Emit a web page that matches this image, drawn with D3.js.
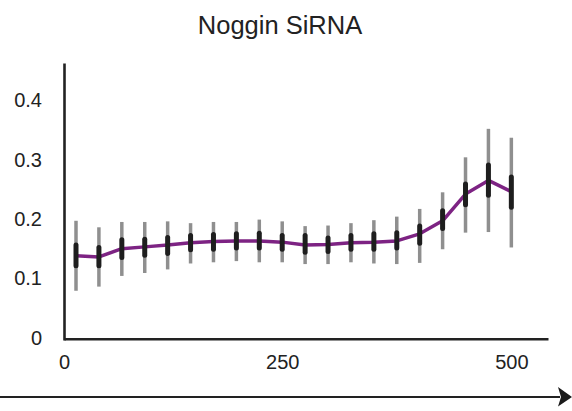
<!DOCTYPE html>
<html><head><meta charset="utf-8">
<script src="https://cdn.jsdelivr.net/npm/d3@7/dist/d3.min.js"></script>
<style>
html,body{margin:0;padding:0;background:#fff;}
svg{display:block;font-family:"Liberation Sans",Arial,sans-serif;}
</style></head>
<body>
<svg id="chart" width="572" height="411"></svg>
<script>
const title = "Noggin SiRNA";
const xValues = [25,50,75,100,125,150,175,200,225,250,275,300,325,350,375,400,425,450,475,500];
const means   = [0.138,0.136,0.150,0.153,0.156,0.160,0.162,0.163,0.163,0.161,0.156,0.157,0.160,0.161,0.163,0.175,0.197,0.242,0.265,0.246];
const sdLow   = [0.079,0.086,0.104,0.109,0.115,0.125,0.127,0.129,0.127,0.127,0.124,0.124,0.127,0.125,0.124,0.126,0.149,0.177,0.178,0.152];
const sdHigh  = [0.197,0.186,0.195,0.195,0.196,0.193,0.195,0.195,0.199,0.196,0.188,0.189,0.193,0.198,0.204,0.217,0.245,0.304,0.352,0.337];
const semLow  = [0.121,0.121,0.135,0.139,0.142,0.148,0.149,0.151,0.151,0.149,0.144,0.145,0.149,0.149,0.151,0.159,0.184,0.224,0.240,0.220];
const semHigh = [0.156,0.152,0.165,0.166,0.169,0.172,0.174,0.175,0.176,0.172,0.172,0.168,0.172,0.175,0.177,0.188,0.214,0.259,0.291,0.271];
const xTicks = [0,250,500];
const xTickLabels = ["0","250","500"];
const yTicks = [0,0.1,0.2,0.3,0.4];
const yTickLabels = ["0","0.1","0.2","0.3","0.4"];

const data = xValues.map((x,i)=>({x, m:means[i], sl:sdLow[i], sh:sdHigh[i], el:semLow[i], eh:semHigh[i]}));

const svg = d3.select("#chart");
const x = d3.scaleLinear().domain([0,25,540]).range([64,76,548]);
const y = d3.scaleLinear().domain([-0.004,0.463]).range([340,63]);

svg.append("text").attr("x",280).attr("y",34).attr("text-anchor","middle")
  .attr("font-size",25.5).attr("fill","#222").text(title);

// gray SD bars
svg.append("g").selectAll("line").data(data).join("line")
  .attr("x1",d=>x(d.x)).attr("x2",d=>x(d.x))
  .attr("y1",d=>y(d.sl)).attr("y2",d=>y(d.sh))
  .attr("stroke","#8f8f8f").attr("stroke-width",3.5);

// mean line
svg.append("path").datum(data)
  .attr("d", d3.line().x(d=>x(d.x)).y(d=>y(d.m)))
  .attr("fill","none").attr("stroke","#7d2383").attr("stroke-width",3.5)
  .attr("stroke-linejoin","round");

// black SEM bars
svg.append("g").selectAll("line").data(data).join("line")
  .attr("x1",d=>x(d.x)).attr("x2",d=>x(d.x))
  .attr("y1",d=>y(d.el)).attr("y2",d=>y(d.eh))
  .attr("stroke","#1e1e1e").attr("stroke-width",5).attr("stroke-linecap","round");

// axes
const yAxis = svg.append("g").attr("transform",`translate(${x(0)},0)`)
  .call(d3.axisLeft(y).tickValues(yTicks).tickFormat((d,i)=>yTickLabels[i]).tickSize(0).tickPadding(22));
const xAxis = svg.append("g").attr("transform",`translate(0,${y(-0.002)})`)
  .call(d3.axisBottom(x).tickValues(xTicks).tickFormat((d,i)=>xTickLabels[i]).tickSize(0).tickPadding(16));
[yAxis,xAxis].forEach(g=>{
  g.select(".domain").attr("stroke","#222").attr("stroke-width",2.6);
  g.selectAll("text").attr("font-size",20).attr("fill","#222").attr("font-family","Liberation Sans, Arial, sans-serif");
});

// bottom arrow
svg.append("line").attr("x1",0).attr("x2",560).attr("y1",397).attr("y2",397)
  .attr("stroke","#222").attr("stroke-width",2);
svg.append("path").attr("d","M558,387 L572,397 L558,406.5 L561,397 Z").attr("fill","#1a1a1a");
</script>
</body></html>
